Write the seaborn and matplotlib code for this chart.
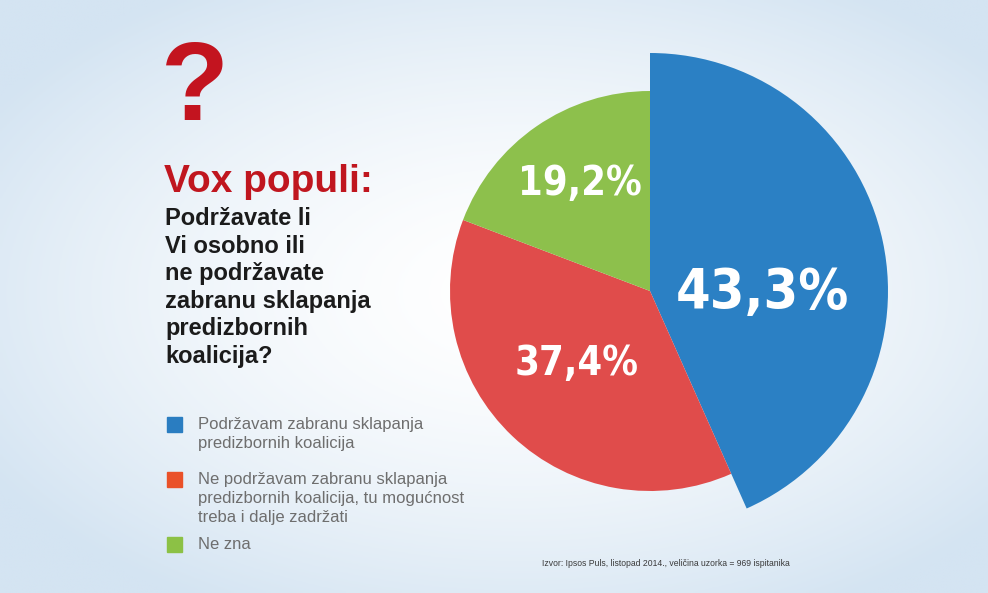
import numpy as np
import matplotlib
matplotlib.use("Agg")
import matplotlib.pyplot as plt
import seaborn as sns
from matplotlib.patches import Rectangle

# podaci
kategorije = [
    "Podržavam zabranu sklapanja\npredizbornih koalicija",
    "Ne podržavam zabranu sklapanja\npredizbornih koalicija, tu mogućnost\ntreba i dalje zadržati",
    "Ne zna",
]
postoci = [43.3, 37.4, 19.2]
oznake = ["43,3%", "37,4%", "19,2%"]
boje_pite = ["#2b80c4", "#e04c4b", "#8dc04c"]
boje_legende = ["#2a7dc1", "#ea5129", "#8cc145"]

naslov = "Vox populi:"
pitanje = ["Podržavate li", "Vi osobno ili", "ne podržavate",
           "zabranu sklapanja", "predizbornih", "koalicija?"]
izvor = "Izvor: Ipsos Puls, listopad 2014., veličina uzorka = 969 ispitanika"

W, H = 988, 593
sns.set_theme(style="white")
plt.rcParams["font.family"] = ["Liberation Sans", "DejaVu Sans"]


def py(y):
    # pikselna y koordinata (od vrha) -> podatkovna
    return H - y


fig = plt.figure(figsize=(W / 100, H / 100), dpi=100)
ax = fig.add_axes([0, 0, 1, 1])

# pozadina - svijetloplavi gradijent
gx, gy = np.meshgrid(np.linspace(0, W, 300), np.linspace(0, H, 200))
t = np.sqrt(((gx - 520) / 620) ** 2 + ((gy - 300) / 360) ** 2)
t = np.clip(t, 0, 1) ** 1.6
rub = np.array([212, 228, 242]) / 255
bg = (1 - t)[..., None] * np.ones(3) + t[..., None] * rub
ax.imshow(bg, extent=(0, W, 0, H), origin="lower", zorder=0, aspect="auto")

# pita
centar = (650, py(291))
wedges, _ = ax.pie(postoci, colors=boje_pite, startangle=90, counterclock=False,
                   radius=200, center=centar, frame=True,
                   wedgeprops=dict(linewidth=0, zorder=2))
wedges[0].set_radius(238)

pozicije = [(762, 308, 40), (577, 375, 28.5), (580, 195, 28.5)]
for txt, (x, y, fs) in zip(oznake, pozicije):
    ax.text(x, py(y), txt, color="white", fontsize=fs, fontweight="bold",
            family="DejaVu Sans", fontstretch="condensed",
            ha="center", va="baseline", zorder=5)

# naslov
ax.text(161, py(120), "?", color="#c3141f", fontsize=80, fontweight="bold",
        ha="left", va="baseline", zorder=5)
ax.text(164, py(192), naslov, color="#c0161f", fontsize=28, fontweight="bold",
        ha="left", va="baseline", zorder=5)
for i, red in enumerate(pitanje):
    ax.text(165, py(225 + i * 27.6), red, color="#1b1b1b", fontsize=17,
            fontweight="bold", ha="left", va="baseline", zorder=5)

# legenda
baze = [429, 484, 549]
for lab, boja, b in zip(kategorije, boje_legende, baze):
    ax.add_patch(Rectangle((167, py(b + 3)), 15, 15, color=boja, zorder=5))
    for j, red in enumerate(lab.split("\n")):
        ax.text(198, py(b + j * 19), red, color="#6e6e6e", fontsize=12,
                ha="left", va="baseline", zorder=5)

ax.text(666, py(566), izvor, color="#3a3a3a", fontsize=6.2,
        ha="center", va="baseline", zorder=5)

ax.set_xlim(0, W)
ax.set_ylim(0, H)
ax.set_aspect("equal")
ax.axis("off")

fig.savefig("out.png", dpi=100)
